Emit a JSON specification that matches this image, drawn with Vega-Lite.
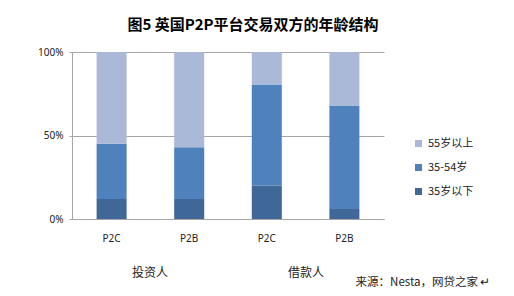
{
  "$schema": "https://vega.github.io/schema/vega-lite/v6.json",
  "width": 312,
  "height": 167,
  "autosize": {"type": "none"},
  "padding": {"left": 72, "top": 52, "right": 130, "bottom": 77},
  "background": "white",
  "title": {
    "text": "图5 英国P2P平台交易双方的年龄结构",
    "font": "Noto Sans CJK SC",
    "fontSize": 15,
    "fontWeight": "bold",
    "color": "#000000",
    "anchor": "middle",
    "frame": "group",
    "dx": 25,
    "offset": 14
  },
  "config": {
    "view": {"stroke": null},
    "axis": {"labelFont": "Noto Sans", "labelColor": "#222222", "titleFont": "Noto Sans CJK SC"},
    "legend": {"labelFont": "Noto Sans CJK SC"}
  },
  "resolve": {"scale": {"x": "independent"}, "axis": {"x": "independent"}},
  "layer": [
    {
      "data": {
        "values": [
          {"key": "投资人|P2C", "group": "投资人", "platform": "P2C", "age": "35岁以下", "seq": 1, "share": 0.12},
          {"key": "投资人|P2C", "group": "投资人", "platform": "P2C", "age": "35-54岁", "seq": 2, "share": 0.33},
          {"key": "投资人|P2C", "group": "投资人", "platform": "P2C", "age": "55岁以上", "seq": 3, "share": 0.55},
          {"key": "投资人|P2B", "group": "投资人", "platform": "P2B", "age": "35岁以下", "seq": 1, "share": 0.12},
          {"key": "投资人|P2B", "group": "投资人", "platform": "P2B", "age": "35-54岁", "seq": 2, "share": 0.31},
          {"key": "投资人|P2B", "group": "投资人", "platform": "P2B", "age": "55岁以上", "seq": 3, "share": 0.57},
          {"key": "借款人|P2C", "group": "借款人", "platform": "P2C", "age": "35岁以下", "seq": 1, "share": 0.20},
          {"key": "借款人|P2C", "group": "借款人", "platform": "P2C", "age": "35-54岁", "seq": 2, "share": 0.605},
          {"key": "借款人|P2C", "group": "借款人", "platform": "P2C", "age": "55岁以上", "seq": 3, "share": 0.195},
          {"key": "借款人|P2B", "group": "借款人", "platform": "P2B", "age": "35岁以下", "seq": 1, "share": 0.06},
          {"key": "借款人|P2B", "group": "借款人", "platform": "P2B", "age": "35-54岁", "seq": 2, "share": 0.62},
          {"key": "借款人|P2B", "group": "借款人", "platform": "P2B", "age": "55岁以上", "seq": 3, "share": 0.32}
        ]
      },
      "mark": {"type": "bar"},
      "encoding": {
        "x": {
          "field": "key",
          "type": "nominal",
          "sort": null,
          "scale": {"paddingInner": 0.613, "paddingOuter": 0.317},
          "axis": {
            "orient": "bottom",
            "title": null,
            "labelAngle": 0,
            "labelExpr": "split(datum.value, '|')[1]",
            "labelFontSize": 10,
            "labelPadding": 14,
            "ticks": false,
            "domain": true,
            "domainColor": "#A6A6A6",
            "grid": false
          }
        },
        "y": {
          "field": "share",
          "type": "quantitative",
          "stack": "zero",
          "scale": {"domain": [0, 1], "nice": false},
          "axis": {
            "title": null,
            "values": [0, 0.5, 1],
            "format": ".0%",
            "labelFontSize": 10,
            "tickSize": 3,
            "tickColor": "#A6A6A6",
            "labelPadding": 6,
            "domainColor": "#A6A6A6",
            "gridColor": "#A6A6A6",
            "grid": true
          }
        },
        "color": {
          "field": "age",
          "type": "nominal",
          "scale": {
            "domain": ["55岁以上", "35-54岁", "35岁以下"],
            "range": ["#AAB9D7", "#4F81BD", "#3F6797"]
          },
          "legend": {
            "title": null,
            "orient": "none",
            "legendX": 341,
            "legendY": 86,
            "symbolType": "square",
            "symbolSize": 49,
            "symbolStrokeWidth": 0,
            "labelFontSize": 11,
            "labelColor": "#222222",
            "labelOffset": 4,
            "rowPadding": 12
          }
        },
        "order": {"field": "seq", "type": "quantitative", "sort": "ascending"}
      }
    },
    {
      "data": {"values": [{"group": "投资人"}, {"group": "借款人"}]},
      "mark": {"type": "tick", "opacity": 0},
      "encoding": {
        "x": {
          "field": "group",
          "type": "nominal",
          "sort": null,
          "axis": {
            "orient": "bottom",
            "domain": false,
            "ticks": false,
            "grid": false,
            "labelAngle": 0,
            "labelFont": "Noto Sans CJK SC",
            "labelFontSize": 12,
            "labelColor": "#222222",
            "labelPadding": 48,
            "title": "来源：Nesta，网贷之家 ↵",
            "titleFont": "Noto Sans CJK SC",
            "titleFontSize": 11.5,
            "titleFontWeight": "normal",
            "titleColor": "#222222",
            "titleX": 418,
            "titleY": 63,
            "titleAlign": "right",
            "titleBaseline": "middle"
          }
        },
        "y": {"datum": 0}
      }
    }
  ]
}
